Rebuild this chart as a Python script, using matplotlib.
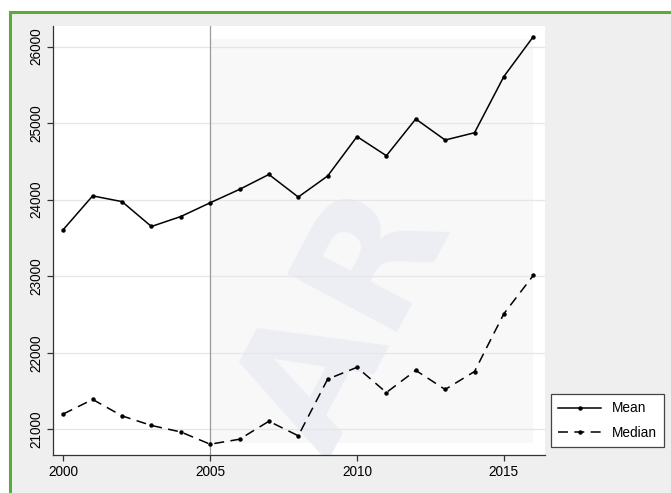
import matplotlib
matplotlib.use("Agg")
import matplotlib.pyplot as plt
from matplotlib.patches import Rectangle

plt.rcParams['font.family'] = ['Liberation Sans', 'DejaVu Sans']

years = list(range(2000, 2017))
mean_vals = [23610, 24050, 23975, 23650, 23780, 23960, 24135, 24330, 24035,
             24310, 24825, 24575, 25055, 24780, 24875, 25610, 26130]
median_vals = [21200, 21390, 21175, 21050, 20965, 20805, 20870, 21105, 20915,
               21655, 21810, 21480, 21770, 21520, 21755, 22510, 23010]
xticks = [2000, 2005, 2010, 2015]
yticks = [21000, 22000, 23000, 24000, 25000, 26000]

W, H = 671, 493
fig = plt.figure(figsize=(W / 100, H / 100), dpi=100, facecolor='white')

# gray panel with green frame (cropped on the right and bottom)
fig.patches.append(Rectangle((9.5 / W, -0.1), 1.2, 1 - 11.5 / H + 0.1,
                             transform=fig.transFigure, facecolor='#efefef',
                             edgecolor='#5aab3a', linewidth=2.2, zorder=-5))

ax = fig.add_axes([53.3 / W, 1 - 455 / H, (545 - 53.3) / W, (455 - 26) / H])
ax.set_facecolor('white')

# faint shaded block of the watermark layer
ax.add_patch(Rectangle((0.3187, 0.028), 0.657, 0.942, transform=ax.transAxes,
                       facecolor='#f8f8f8', edgecolor='none', zorder=0.5))

# watermark
ax.text(348 / W, 1 - 322 / H, 'AR', transform=fig.transFigure, fontsize=124,
        fontweight='bold', family='DejaVu Sans', color='#eceef3', rotation=62,
        ha='center', va='center', zorder=0.8, clip_on=False)

for y in yticks:
    ax.axhline(y, color='#e6e6e6', lw=0.9, zorder=0.9)
ax.axvline(2005, color='#9a9a9a', lw=0.9, zorder=1)

ax.plot(years, mean_vals, color='black', lw=1.1, marker='o', markersize=2.2,
        label='Mean', zorder=3)
ax.plot(years, median_vals, color='black', lw=1.1, marker='o', markersize=2.2,
        dashes=(6.5, 4.2), label='Median', zorder=3)

ax.set_xlim(1999.66, 2016.4)
ax.set_ylim(20664, 26270)
ax.set_xticks(xticks)
ax.set_yticks(yticks)
ax.set_yticklabels([str(v) for v in yticks], rotation=90, va='center')

for s in ['top', 'right']:
    ax.spines[s].set_visible(False)
for s in ['left', 'bottom']:
    ax.spines[s].set_color('#333333')
    ax.spines[s].set_linewidth(0.9)
ax.tick_params(axis='both', colors='#333333', labelcolor='black', length=4,
               width=0.9, labelsize=9.8)
ax.tick_params(axis='y', pad=3)

leg = fig.legend(loc='upper left', bbox_to_anchor=(551 / W, 1 - 394 / H),
                 bbox_transform=fig.transFigure, borderaxespad=0,
                 fancybox=False, edgecolor='#444444', framealpha=1,
                 fontsize=9.8, handlelength=3.1, borderpad=0.55,
                 labelspacing=0.75)
leg.get_frame().set_linewidth(0.9)

fig.savefig('out.png', dpi=100, facecolor=fig.get_facecolor())
